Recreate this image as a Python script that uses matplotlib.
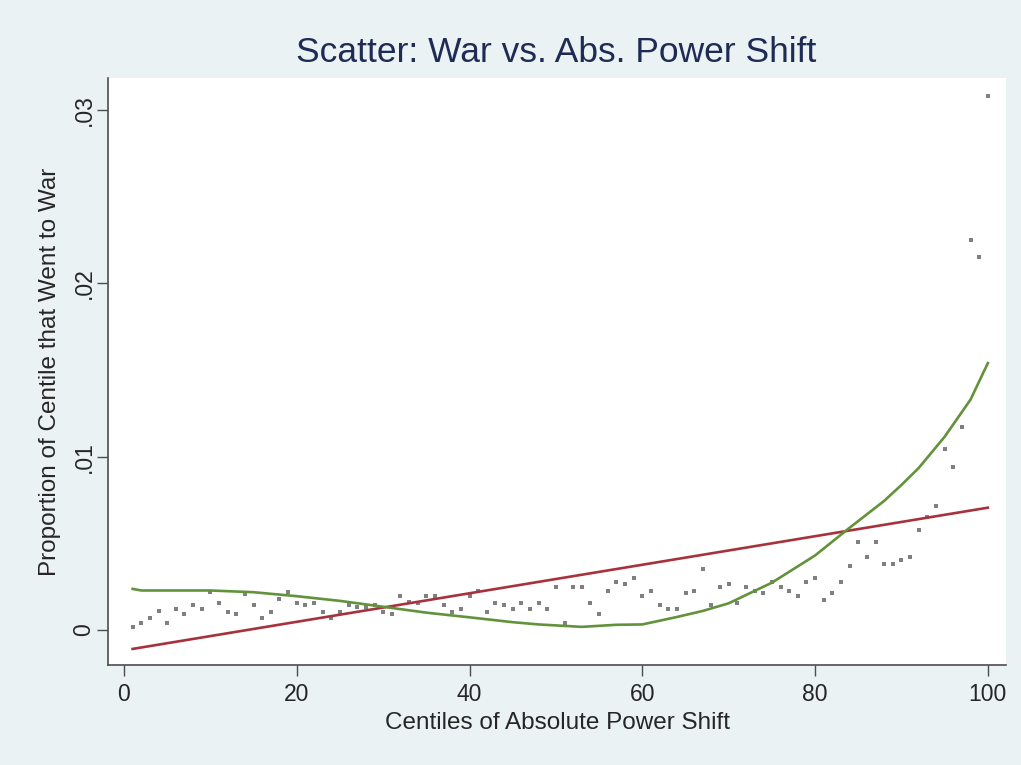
import numpy as np
import matplotlib.pyplot as plt

# Centiles 1..100 and share of each centile that went to war
centiles = np.arange(1, 101)
war_share = [
    0.00019, 0.00039, 0.00071, 0.00111, 0.00042, 0.00121, 0.00092, 0.00144, 0.00121, 0.00218,
    0.00154, 0.00102, 0.00092, 0.00210, 0.00144, 0.00069, 0.00102, 0.00177, 0.00218, 0.00154,
    0.00144, 0.00154, 0.00102, 0.00069, 0.00102, 0.00144, 0.00134, 0.00134, 0.00144, 0.00102,
    0.00092, 0.00196, 0.00163, 0.00154, 0.00196, 0.00196, 0.00142, 0.00102, 0.00121, 0.00196,
    0.00227, 0.00102, 0.00154, 0.00142, 0.00121, 0.00154, 0.00121, 0.00154, 0.00121, 0.00246,
    0.00040, 0.00246, 0.00246, 0.00154, 0.00091, 0.00227, 0.00277, 0.00267, 0.00298, 0.00194,
    0.00227, 0.00142, 0.00121, 0.00121, 0.00215, 0.00225, 0.00350, 0.00142, 0.00246, 0.00267,
    0.00154, 0.00246, 0.00225, 0.00215, 0.00277, 0.00246, 0.00225, 0.00194, 0.00277, 0.00298,
    0.00173, 0.00215, 0.00277, 0.00371, 0.00506, 0.00423, 0.00506, 0.00381, 0.00381, 0.00402,
    0.00423, 0.00579, 0.00652, 0.00714, 0.01046, 0.00942, 0.01171, 0.02249, 0.02154, 0.03080,
]

# smoothed curve (green)
smooth_x = [1, 2, 5, 10, 15, 20, 25, 30, 35, 40, 45, 48, 53, 57, 60, 64, 67, 70, 75, 80, 84, 88, 90, 92, 95, 98, 100]
smooth_y = [0.00237, 0.00228, 0.00228, 0.00228, 0.00218, 0.00195, 0.00168, 0.00134, 0.00100, 0.00073, 0.00045,
            0.00032, 0.00018, 0.00030, 0.00032, 0.00075, 0.00110, 0.00154, 0.00273, 0.00430, 0.00590,
            0.00745, 0.00837, 0.00935, 0.01115, 0.01330, 0.01540]

bg = '#EAF2F3'
plt.rcParams['font.family'] = ['Liberation Sans', 'DejaVu Sans']

fig = plt.figure(figsize=(10.21, 7.65), dpi=100, facecolor=bg)
ax = fig.add_axes([108 / 1021, 1 - 665 / 765, (1006 - 108) / 1021, (665 - 78) / 765])
ax.set_facecolor('white')

# linear fit
slope, icpt = np.polyfit(centiles, war_share, 1)
fit_x = np.array([1, 100])

ax.scatter(centiles, war_share, marker='s', s=6, color='#808080', linewidths=0, zorder=2)
ax.plot(fit_x, icpt + slope * fit_x, color='#A8323C', lw=1.9, zorder=3)
ax.plot(smooth_x, smooth_y, color='#62923A', lw=1.9, zorder=3)

ax.set_xlim(-1.85, 102.1)
ax.set_ylim(-0.00202, 0.03185)
ax.set_xticks([0, 20, 40, 60, 80, 100])
ax.set_yticks([0, 0.01, 0.02, 0.03])
ax.set_yticklabels(['0', '.01', '.02', '.03'], rotation=90, va='center')
ax.tick_params(axis='both', labelsize=16.5, length=8, width=1, color='#4D4D4D', labelcolor='#262626')
ax.tick_params(axis='x', pad=5)
ax.tick_params(axis='y', pad=1)

for side in ['top', 'right']:
    ax.spines[side].set_visible(False)
for side in ['left', 'bottom']:
    ax.spines[side].set_color('#4D4D4D')
    ax.spines[side].set_linewidth(1.2)

ax.set_xlabel('Centiles of Absolute Power Shift', fontsize=17.5, color='#262626', labelpad=4)
ax.set_ylabel('Proportion of Centile that Went to War', fontsize=17.5, color='#262626', labelpad=8)
fig.text(556 / 1021, 1 - 53 / 765, 'Scatter: War vs. Abs. Power Shift', fontsize=25.5,
         color='#1F2B55', ha='center', va='center')

fig.savefig('out.png', dpi=100, facecolor=bg)
